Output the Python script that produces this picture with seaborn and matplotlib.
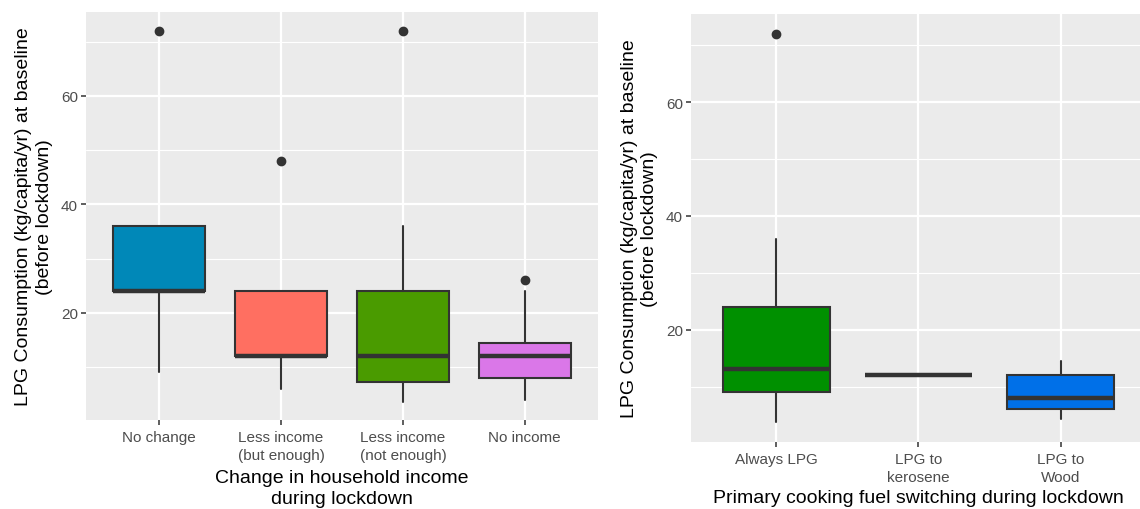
import matplotlib
matplotlib.use("Agg")
import matplotlib.pyplot as plt
from matplotlib.ticker import FixedLocator
import seaborn as sns

# left panel: change in household income (box stats)
income_groups = ["No change", "Less income\n(but enough)", "Less income\n(not enough)", "No income"]
income_whislo = [9, 6, 3.6, 4]
income_q1 = [24, 12, 7.2, 8]
income_med = [24, 12, 12, 12]
income_q3 = [36, 24, 24, 14.4]
income_whishi = [36, 24, 36, 24]
income_fliers = [[72], [48], [72], [26]]
income_colors = ["#0088B8", "#FF6F61", "#4A9B00", "#DA77E8"]

# right panel: primary cooking fuel switching
fuel_groups = ["Always LPG", "LPG to\nkerosene", "LPG to\nWood"]
fuel_whislo = [3.7, 12, 4.2]
fuel_q1 = [9, 12, 6]
fuel_med = [13, 12, 8]
fuel_q3 = [24, 12, 12]
fuel_whishi = [36, 12, 14.4]
fuel_fliers = [[72], [], []]
fuel_colors = ["#009000", "#E6A000", "#0070E8"]

y_title = "LPG Consumption (kg/capita/yr) at baseline\n(before lockdown)"

sns.set_theme(style="darkgrid", rc={"axes.facecolor": "#EBEBEB", "grid.color": "white"})
plt.rcParams["font.family"] = ["Liberation Sans", "DejaVu Sans"]

dark = "#333333"


def draw_panel(ax, groups, lo, q1, med, q3, hi, fliers, colors, xlabel, xlab_y, ylab_x):
    stats = []
    for i in range(len(groups)):
        stats.append({"label": groups[i], "whislo": lo[i], "q1": q1[i], "med": med[i],
                      "q3": q3[i], "whishi": hi[i], "fliers": fliers[i]})
    bp = ax.bxp(stats, positions=range(len(groups)), widths=0.75, patch_artist=True,
                showcaps=False,
                boxprops=dict(edgecolor=dark, linewidth=1.5),
                whiskerprops=dict(color=dark, linewidth=1.5),
                medianprops=dict(color=dark, linewidth=3.2),
                flierprops=dict(marker="o", markerfacecolor=dark, markeredgecolor=dark,
                                markersize=6))
    for patch, c in zip(bp["boxes"], colors):
        patch.set_facecolor(c)

    ax.set_xlim(-0.6, len(groups) - 0.4)
    ax.set_ylim(0.3, 75.5)
    ax.set_yticks([20, 40, 60])
    ax.yaxis.set_minor_locator(FixedLocator([10, 30, 50, 70]))
    ax.set_axisbelow(True)
    ax.grid(which="major", color="white", linewidth=1.6)
    ax.grid(which="minor", axis="y", color="white", linewidth=0.8)
    ax.grid(which="minor", axis="x", visible=False)
    for s in ax.spines.values():
        s.set_visible(False)
    ax.tick_params(which="major", bottom=True, left=True, length=3.3, width=1.1,
                   color=dark, labelcolor="#4D4D4D", labelsize=11, pad=2.5)
    ax.tick_params(axis="x", which="major", pad=4.0)
    ax.tick_params(which="minor", length=0)
    for lab in ax.get_xticklabels():
        lab.set_linespacing(1.35)

    ax.set_xlabel(xlabel, fontsize=14, color="black", linespacing=1.3)
    ax.set_ylabel(y_title, fontsize=14, color="black", linespacing=1.3)
    ax.xaxis.set_label_coords(0.5, xlab_y)
    ax.yaxis.set_label_coords(ylab_x, 0.5)


fig = plt.figure(figsize=(11.4, 5.1), dpi=100)
ax1 = fig.add_axes([0.0754, 0.1751, 0.4491, 0.8])
ax2 = fig.add_axes([0.6061, 0.132, 0.3991, 0.8386])

draw_panel(ax1, income_groups, income_whislo, income_q1, income_med, income_q3,
           income_whishi, income_fliers, income_colors,
           "Change in household income\nduring lockdown", -0.12, -0.064)
draw_panel(ax2, fuel_groups, fuel_whislo, fuel_q1, fuel_med, fuel_q3,
           fuel_whishi, fuel_fliers, fuel_colors,
           "Primary cooking fuel switching during lockdown", -0.11, -0.0715)

fig.savefig("out.png", dpi=100, facecolor="white")
